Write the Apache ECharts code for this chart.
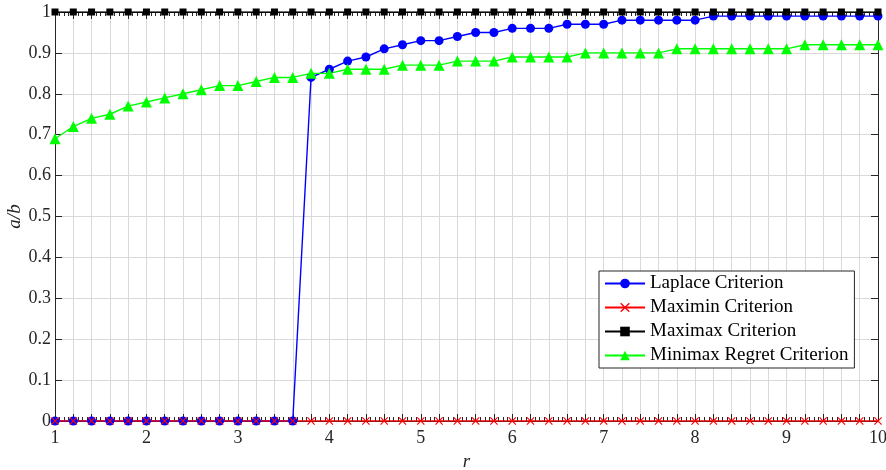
<!DOCTYPE html>
<html>
<head>
<meta charset="utf-8">
<script src="https://cdn.jsdelivr.net/npm/echarts@6/dist/echarts.min.js"></script>
<style>
  html, body { margin: 0; padding: 0; background: #fff; }
  #chart { width: 886px; height: 470px; }
</style>
</head>
<body>
<div id="chart"></div>
<script>
// r values, 1 .. 10 step 0.2
var rValues = [1, 1.2, 1.4, 1.6, 1.8, 2, 2.2, 2.4, 2.6, 2.8, 3, 3.2, 3.4, 3.6, 3.8, 4, 4.2, 4.4, 4.6, 4.8,
  5, 5.2, 5.4, 5.6, 5.8, 6, 6.2, 6.4, 6.6, 6.8, 7, 7.2, 7.4, 7.6, 7.8, 8, 8.2, 8.4, 8.6, 8.8,
  9, 9.2, 9.4, 9.6, 9.8, 10];

var laplace = [0, 0, 0, 0, 0, 0, 0, 0, 0, 0, 0, 0, 0, 0, 0.84, 0.86, 0.88, 0.89, 0.91, 0.92,
  0.93, 0.93, 0.94, 0.95, 0.95, 0.96, 0.96, 0.96, 0.97, 0.97, 0.97, 0.98, 0.98, 0.98, 0.98, 0.98, 0.99, 0.99, 0.99, 0.99,
  0.99, 0.99, 0.99, 0.99, 0.99, 0.99];

var maximin = [0, 0, 0, 0, 0, 0, 0, 0, 0, 0, 0, 0, 0, 0, 0, 0, 0, 0, 0, 0,
  0, 0, 0, 0, 0, 0, 0, 0, 0, 0, 0, 0, 0, 0, 0, 0, 0, 0, 0, 0,
  0, 0, 0, 0, 0, 0];

var maximax = [1, 1, 1, 1, 1, 1, 1, 1, 1, 1, 1, 1, 1, 1, 1, 1, 1, 1, 1, 1,
  1, 1, 1, 1, 1, 1, 1, 1, 1, 1, 1, 1, 1, 1, 1, 1, 1, 1, 1, 1,
  1, 1, 1, 1, 1, 1];

var minimaxRegret = [0.69, 0.72, 0.74, 0.75, 0.77, 0.78, 0.79, 0.80, 0.81, 0.82, 0.82, 0.83, 0.84, 0.84, 0.85, 0.85, 0.86, 0.86, 0.86, 0.87,
  0.87, 0.87, 0.88, 0.88, 0.88, 0.89, 0.89, 0.89, 0.89, 0.90, 0.90, 0.90, 0.90, 0.90, 0.91, 0.91, 0.91, 0.91, 0.91, 0.91,
  0.91, 0.92, 0.92, 0.92, 0.92, 0.92];

var seriesNames = ["Laplace Criterion", "Maximin Criterion", "Maximax Criterion", "Minimax Regret Criterion"];

function pairs(ys) {
  return rValues.map(function (r, i) { return [r, ys[i]]; });
}

var chart = echarts.init(document.getElementById("chart"));

var fontFamily = "Liberation Serif, Times New Roman, serif";
var crossPath = "path://M0,1L1,0L5,4L9,0L10,1L6,5L10,9L9,10L5,6L1,10L0,9L4,5Z";

function xAxisCfg(pos, showLabel) {
  return {
    type: "value",
    position: pos,
    min: 1,
    max: 10,
    interval: 0.2,
    name: showLabel ? "r" : "",
    nameLocation: "middle",
    nameGap: 31,
    nameMoveOverlap: false,
    nameTextStyle: { fontFamily: fontFamily, fontStyle: "italic", fontSize: 19, color: "#262626" },
    axisLine: { show: true, onZero: false, lineStyle: { color: "#262626", width: 1 } },
    axisTick: { show: true, inside: true, length: 7, lineStyle: { color: "#262626" } },
    minorTick: { show: true, splitNumber: 4, length: 4, lineStyle: { color: "#262626" } },
    splitLine: { show: showLabel, lineStyle: { color: "#d9d9d9", width: 1 } },
    axisLabel: {
      show: showLabel,
      margin: 8,
      fontFamily: fontFamily,
      fontSize: 18,
      color: "#262626",
      formatter: function (v) {
        return Math.abs(v - Math.round(v)) < 1e-6 ? String(Math.round(v)) : "";
      }
    }
  };
}

function yAxisCfg(pos, showLabel) {
  return {
    type: "value",
    position: pos,
    min: 0,
    max: 1,
    interval: 0.1,
    name: showLabel ? "a/b" : "",
    nameLocation: "middle",
    nameGap: 31,
    nameMoveOverlap: false,
    nameTextStyle: { fontFamily: fontFamily, fontStyle: "italic", fontSize: 19, color: "#262626" },
    axisLine: { show: true, onZero: false, lineStyle: { color: "#262626", width: 1 } },
    axisTick: { show: true, inside: true, length: 7, lineStyle: { color: "#262626" } },
    splitLine: { show: showLabel, lineStyle: { color: "#d9d9d9", width: 1 } },
    axisLabel: {
      show: showLabel,
      margin: 4,
      fontFamily: fontFamily,
      fontSize: 18,
      color: "#262626",
      formatter: function (v) { return String(Math.round(v * 10) / 10); }
    }
  };
}

var option = {
  backgroundColor: "#fff",
  animation: false,
  grid: { left: 55, right: 8, top: 12, bottom: 49, outerBoundsMode: "none", containLabel: false },
  xAxis: [xAxisCfg("bottom", true), xAxisCfg("top", false)],
  yAxis: [yAxisCfg("left", true), yAxisCfg("right", false)],
  legend: {
    orient: "vertical",
    left: 599,
    top: 271,
    backgroundColor: "#fff",
    borderColor: "#262626",
    borderWidth: 1,
    borderRadius: 0,
    padding: [3, 6, 3, 5],
    itemGap: 5,
    itemWidth: 40,
    itemHeight: 12,
    textStyle: { fontFamily: fontFamily, fontSize: 19, color: "#000" },
    data: seriesNames
  },
  series: [
    {
      name: seriesNames[0], type: "line", data: pairs(laplace),
      symbol: "circle", symbolSize: 9,
      lineStyle: { color: "#0000ff", width: 1.4 },
      itemStyle: { color: "#0000ff" }
    },
    {
      name: seriesNames[1], type: "line", data: pairs(maximin),
      symbol: crossPath, symbolSize: 8,
      lineStyle: { color: "#ff0000", width: 1.6 },
      itemStyle: { color: "#ff0000" }
    },
    {
      name: seriesNames[2], type: "line", data: pairs(maximax),
      symbol: "rect", symbolSize: 7,
      lineStyle: { color: "#000000", width: 1.4 },
      itemStyle: { color: "#000000" }
    },
    {
      name: seriesNames[3], type: "line", data: pairs(minimaxRegret),
      symbol: "triangle", symbolSize: 11,
      lineStyle: { color: "#00ff00", width: 1.4 },
      itemStyle: { color: "#00ff00" }
    }
  ]
};

chart.setOption(option);
</script>
</body>
</html>
